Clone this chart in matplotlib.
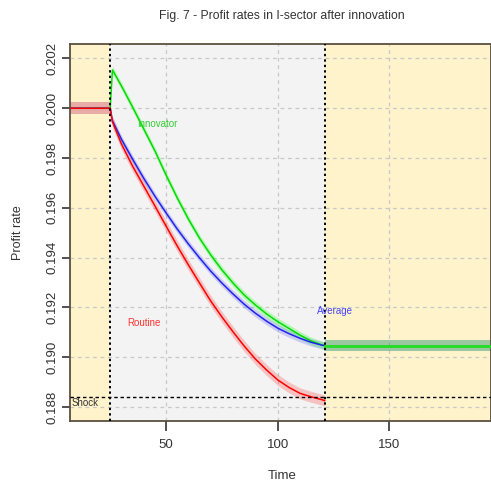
import matplotlib
matplotlib.use("Agg")
import matplotlib.pyplot as plt
import numpy as np

plt.rcParams['font.family'] = ['Liberation Sans', 'DejaVu Sans']

# ---------------- data ----------------
t_pre = [1, 24, 25]
v_pre = [0.2000, 0.2000, 0.2000]

t_shock = [25, 26, 30, 35, 40, 45, 50, 55, 60, 65, 70, 75, 80, 85, 90, 95,
           100, 105, 110, 115, 120, 121]
routine = [0.20000, 0.19945, 0.19857, 0.19768, 0.19688, 0.19608, 0.19527,
           0.19447, 0.19371, 0.19298, 0.19226, 0.19162, 0.19102, 0.19045,
           0.18993, 0.18949, 0.18909, 0.18879, 0.18855, 0.18841, 0.18829,
           0.18826]
average = [0.20000, 0.19949, 0.19876, 0.19796, 0.19719, 0.19647, 0.19580,
           0.19515, 0.19455, 0.19399, 0.19346, 0.19298, 0.19254, 0.19213,
           0.19177, 0.19145, 0.19117, 0.19095, 0.19076, 0.19060, 0.19048,
           0.19047]
innovator = [0.20085, 0.20154, 0.20090, 0.20005, 0.19917, 0.19829, 0.19732,
             0.19640, 0.19555, 0.19478, 0.19411, 0.19351, 0.19298, 0.19250,
             0.19210, 0.19174, 0.19143, 0.19116, 0.19089, 0.19065, 0.19049,
             0.19047]

t_post = [121, 200]
v_post = [0.19047, 0.19047]

band_routine = 0.00022
band_other = 0.00015
band_pre = 0.00024
band_post = 0.00023

shock_start = 25
shock_end = 121
shock_level = 0.1884

x_ticks = [50, 100, 150]
y_ticks = [0.188, 0.190, 0.192, 0.194, 0.196, 0.198, 0.200, 0.202]

title = "Fig. 7 - Profit rates in I-sector after innovation"

# ---------------- figure ----------------
fig = plt.figure(figsize=(4.91, 4.84), dpi=100)
ax = fig.add_axes([70/491, 1-421/484, 1-70/491, (421-44)/484])
ax.set_xlim(7.0, 195.5)
ax.set_ylim(0.18744, 0.20258)

ax.axvspan(ax.get_xlim()[0], shock_start, color='#FFF3CC', zorder=0)
ax.axvspan(shock_start, shock_end, color='#F3F3F3', zorder=0)
ax.axvspan(shock_end, ax.get_xlim()[1], color='#FFF3CC', zorder=0)

for xt in x_ticks:
    ax.axvline(xt, color='#C8C8C8', lw=0.9, ls=(0, (3, 3)), zorder=1)
for yt in y_ticks:
    ax.axhline(yt, color='#C8C8C8', lw=0.9, ls=(0, (3, 3)), zorder=1)

ts = np.array(t_shock)
r = np.array(routine); a = np.array(average); g = np.array(innovator)

# bands
tp = np.array(t_pre); vp = np.array(v_pre)
ax.fill_between(tp, vp - band_pre, vp + band_pre, color='#C8406E', alpha=0.4,
                lw=0, zorder=2)
ax.fill_between(ts[1:], r[1:] - band_routine, r[1:] + band_routine, color='red',
                alpha=0.2, lw=0, zorder=2)
ax.fill_between(ts[1:], a[1:] - band_other, a[1:] + band_other, color='blue',
                alpha=0.17, lw=0, zorder=2)
ax.fill_between(ts[1:], g[1:] - band_other, g[1:] + band_other, color='#00FF00',
                alpha=0.24, lw=0, zorder=2)
tq = np.array(t_post); vq = np.array(v_post)
ax.fill_between(tq, vq - band_post, vq + band_post, color='#379D74', alpha=0.5,
                lw=0, zorder=2)

# lines
ax.plot(list(t_pre) + t_shock[1:], list(v_pre) + innovator[1:], color='#00DD00', lw=1.1, zorder=4)
ax.plot(list(t_pre) + t_shock[1:], list(v_pre) + average[1:], color='#2222EE', lw=1.1, zorder=5)
ax.plot(list(t_pre) + t_shock[1:], list(v_pre) + routine[1:], color='#FF0000', lw=1.1, zorder=6)
ax.plot(t_post, v_post, color='#22DD22', lw=2.0, zorder=7)

# shock markers
ax.axvline(shock_start, color='black', lw=1.4, ls=(0, (1.2, 1.6)), zorder=8)
ax.axvline(shock_end, color='black', lw=1.4, ls=(0, (1.2, 1.6)), zorder=8)
ax.axhline(shock_level, color='black', lw=1.0, ls=(0, (2.5, 2)), zorder=8)

# labels
ax.text(36.9, 0.19937, "Innovator", color='#33CC33', fontsize=7, va='center', ha='left', zorder=9)
ax.text(32.8, 0.19139, "Routine", color='#FF3333', fontsize=7, va='center', ha='left', zorder=9)
ax.text(117.7, 0.19186, "Average", color='#4444FF', fontsize=7, va='center', ha='left', zorder=9)
ax.text(7.5, 0.18815, "Shock", color='#333333', fontsize=7, va='center', ha='left', zorder=9)

ax.set_xticks(x_ticks)
ax.set_xticklabels([str(v) for v in x_ticks], fontsize=9.5, color='#333333')
ax.set_yticks(y_ticks)
ax.set_yticklabels([f"{v:.3f}" for v in y_ticks], fontsize=9.5, color='#333333',
                   rotation=90, va='center')
ax.tick_params(axis='both', direction='out', length=6, width=1.2, color='#333333')
ax.tick_params(axis='x', length=7, pad=6)
ax.tick_params(axis='y', pad=2.5)

for s in ax.spines.values():
    s.set_color('#5A5040'); s.set_linewidth(1.3)

fig.text(282/491, 1-16/484, title, ha='center', va='center', fontsize=8.8, color='#333333')
fig.text(282/491, 1-476/484, "Time", ha='center', va='center', fontsize=9.5, color='#333333')
fig.text(18/491, 1-233/484, "Profit rate", ha='center', va='center', fontsize=9,
         color='#333333', rotation=90)

fig.savefig("out.png", dpi=100)
